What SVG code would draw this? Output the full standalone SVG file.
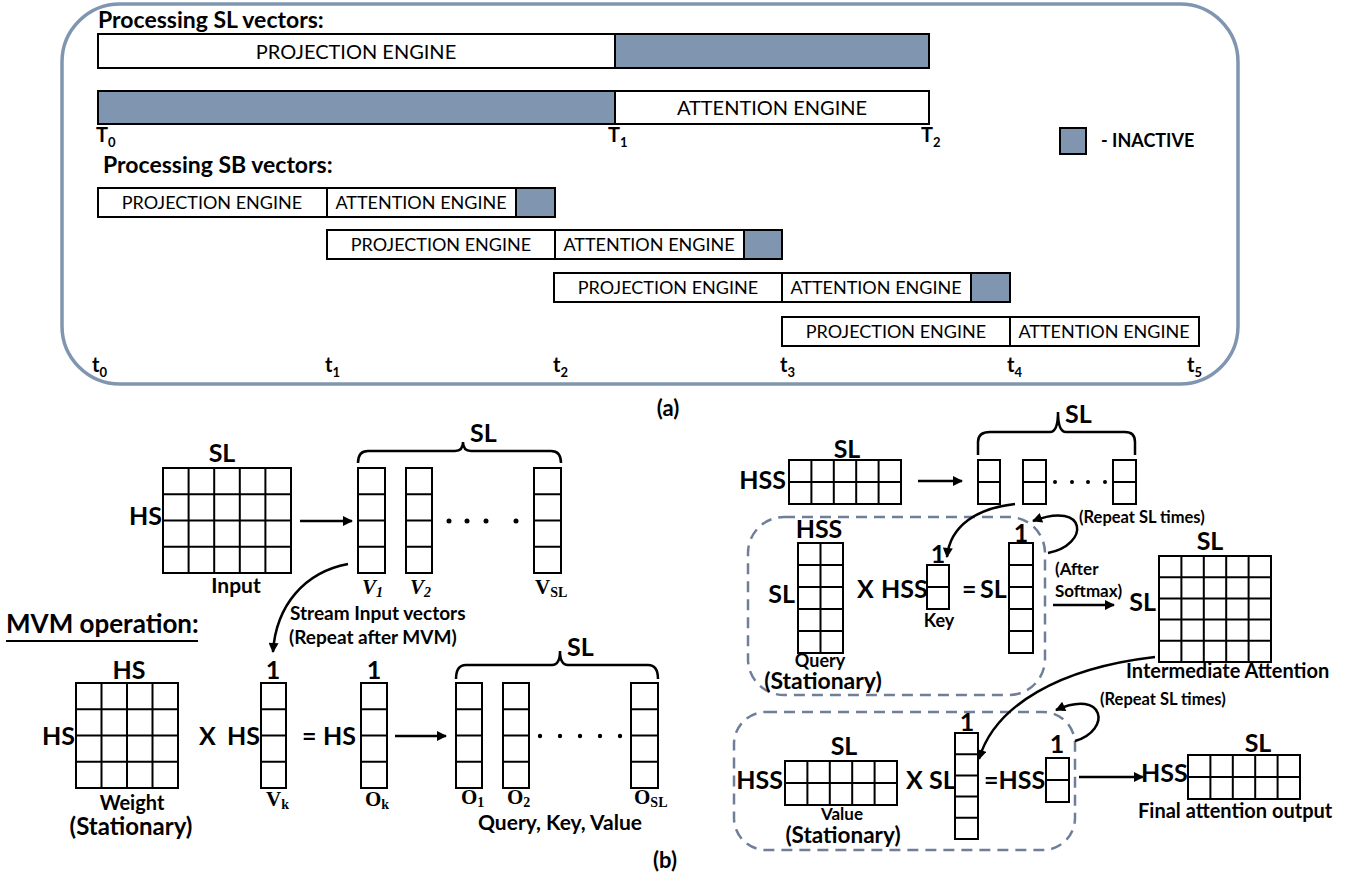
<svg xmlns="http://www.w3.org/2000/svg" width="1349" height="886" viewBox="0 0 1349 886">
<style>
text{font-family:Lato,"Liberation Sans",sans-serif;fill:#000}
.b{font-weight:bold}
.eng{font-size:20px}
.sb{font-size:18px}
.big{font-size:25px;font-weight:bold}
.lbl{font-size:20px;font-weight:bold}
.rep{font-size:16.5px;font-weight:bold}
.m{font-family:"Liberation Serif","DejaVu Serif",serif;font-weight:bold;font-size:21px}
.ms{font-size:14px}
.bx{fill:#fff;stroke:#000;stroke-width:2}
.in{fill:#8096b0;stroke:#000;stroke-width:2}
.g{fill:#fff;stroke:#000;stroke-width:2}
.gl{fill:none;stroke:#000;stroke-width:2}
.ar{fill:none;stroke:#000;stroke-width:2.5}
.dash{fill:none;stroke:#6f7f99;stroke-width:2.5;stroke-dasharray:11 7}
.br{fill:none;stroke:#000;stroke-width:2.5}
</style>
<defs>
<marker id="ah" viewBox="0 0 10 10" refX="9" refY="5" markerWidth="11" markerHeight="10" markerUnits="userSpaceOnUse" orient="auto"><path d="M0,0 L10,5 L0,10 z" fill="#000"/></marker>
</defs>

<!-- Part (a) -->
<g id="frame-a">
<rect x="62" y="4" width="1176" height="380" rx="58" ry="58" fill="none" stroke="#8096b0" stroke-width="3.5"/>
</g>
<g id="sl-title"><text x="98" y="28" class="b" font-size="23">Processing SL vectors:</text></g>
<g id="sl-row1">
<rect x="98" y="34" width="517" height="34" class="bx"/>
<rect x="615" y="34" width="314" height="34" class="in"/>
<text x="356" y="59" class="eng" text-anchor="middle">PROJECTION ENGINE</text>
</g>
<g id="sl-row2">
<rect x="98" y="91" width="517" height="33" class="in"/>
<rect x="615" y="91" width="314" height="33" class="bx"/>
<text x="772" y="115" class="eng" text-anchor="middle">ATTENTION ENGINE</text>
</g>
<g id="T-labels" class="b" font-size="20">
<text x="96" y="142">T<tspan font-size="13" dy="5">0</tspan></text>
<text x="608" y="142">T<tspan font-size="13" dy="5">1</tspan></text>
<text x="921" y="142">T<tspan font-size="13" dy="5">2</tspan></text>
</g>
<g id="legend">
<rect x="1060" y="128" width="26" height="26" class="in"/>
<text x="1101" y="147" class="b" font-size="18">- INACTIVE</text>
</g>
<g id="sb-title"><text x="103" y="173" class="b" font-size="23">Processing SB vectors:</text></g>
<g id="sb-row1">
<rect x="98" y="188" width="229" height="29" class="bx"/>
<rect x="327" y="188" width="189" height="29" class="bx"/>
<rect x="516" y="188" width="39" height="29" class="in"/>
<text x="212" y="209" class="sb" text-anchor="middle">PROJECTION ENGINE</text>
<text x="421" y="209" class="sb" text-anchor="middle">ATTENTION ENGINE</text>
</g>
<g id="sb-row2">
<rect x="327" y="230" width="228" height="29" class="bx"/>
<rect x="555" y="230" width="189" height="29" class="bx"/>
<rect x="744" y="230" width="38" height="29" class="in"/>
<text x="441" y="251" class="sb" text-anchor="middle">PROJECTION ENGINE</text>
<text x="649" y="251" class="sb" text-anchor="middle">ATTENTION ENGINE</text>
</g>
<g id="sb-row3">
<rect x="554" y="273" width="228" height="29" class="bx"/>
<rect x="782" y="273" width="189" height="29" class="bx"/>
<rect x="971" y="273" width="39" height="29" class="in"/>
<text x="668" y="294" class="sb" text-anchor="middle">PROJECTION ENGINE</text>
<text x="876" y="294" class="sb" text-anchor="middle">ATTENTION ENGINE</text>
</g>
<g id="sb-row4">
<rect x="782" y="317" width="228" height="29" class="bx"/>
<rect x="1010" y="317" width="189" height="29" class="bx"/>
<text x="896" y="338" class="sb" text-anchor="middle">PROJECTION ENGINE</text>
<text x="1104" y="338" class="sb" text-anchor="middle">ATTENTION ENGINE</text>
</g>
<g id="t-labels" class="b" font-size="20">
<text x="92" y="372">t<tspan font-size="13" dy="5">0</tspan></text>
<text x="325" y="372">t<tspan font-size="13" dy="5">1</tspan></text>
<text x="553" y="372">t<tspan font-size="13" dy="5">2</tspan></text>
<text x="780" y="372">t<tspan font-size="13" dy="5">3</tspan></text>
<text x="1007" y="372">t<tspan font-size="13" dy="5">4</tspan></text>
<text x="1187" y="372">t<tspan font-size="13" dy="5">5</tspan></text>
</g>
<g id="cap-a"><text x="668" y="416" class="b" font-size="22" text-anchor="middle">(a)</text></g>

<!-- Part (b) left -->
<g id="input-matrix">
<rect x="163" y="468" width="128" height="105" class="g"/>
<path class="gl" d="M188.6 468V573M214.2 468V573M239.8 468V573M265.4 468V573M163 494.25H291M163 520.5H291M163 546.75H291"/>
<text x="222" y="462" class="big" text-anchor="middle">SL</text>
<text x="162" y="525" class="big" text-anchor="end">HS</text>
<text x="236" y="593" class="b" font-size="21" text-anchor="middle">Input</text>
</g>
<g id="input-vectors">
<rect x="358" y="468" width="27" height="105" class="g"/>
<path class="gl" d="M358 494.25H385M358 520.5H385M358 546.75H385"/>
<rect x="406" y="468" width="26" height="105" class="g"/>
<path class="gl" d="M406 494.25H432M406 520.5H432M406 546.75H432"/>
<rect x="534" y="468" width="27" height="105" class="g"/>
<path class="gl" d="M534 494.25H561M534 520.5H561M534 546.75H561"/>
<circle cx="449" cy="521" r="2.5"/><circle cx="467" cy="521" r="2.5"/><circle cx="486" cy="521" r="2.5"/><circle cx="516" cy="521" r="2.5"/>
<path class="br" d="M358 463Q358 451 368 451L455 451Q463 451 463 442Q463 451 471 451L551 451Q561 451 561 463"/>
<text x="470" y="442" class="big">SL</text>
<text x="362" y="594" class="m" font-style="italic">V<tspan class="ms" dy="3">1</tspan></text>
<text x="410" y="594" class="m" font-style="italic">V<tspan class="ms" dy="3">2</tspan></text>
<text x="535" y="594" class="m">V<tspan class="ms" dy="3">SL</tspan></text>
</g>
<g id="stream-label">
<text x="290" y="620" class="b" font-size="19">Stream Input vectors</text>
<text x="289" y="644" class="b" font-size="19">(Repeat after MVM)</text>
</g>
<g id="mvm-title">
<text x="6" y="633" class="b" font-size="26">MVM operation:</text>
<line x1="6" y1="641" x2="198" y2="641" stroke="#000" stroke-width="2"/>
</g>
<g id="weight-matrix">
<rect x="76" y="683" width="102" height="105" class="g"/>
<path class="gl" d="M101.5 683V788M127 683V788M152.5 683V788M76 709.25H178M76 735.5H178M76 761.75H178"/>
<text x="129" y="679" class="big" text-anchor="middle">HS</text>
<text x="75" y="745" class="big" text-anchor="end">HS</text>
<text x="132" y="810" class="b" font-size="20" text-anchor="middle">Weight</text>
<text x="131" y="835" class="b" font-size="24" text-anchor="middle">(Stationary)</text>
</g>
<g id="vk-vector">
<text x="199" y="745" class="big">X</text>
<text x="227" y="745" class="big">HS</text>
<rect x="261" y="683" width="25" height="105" class="g"/>
<path class="gl" d="M261 709.25H286M261 735.5H286M261 761.75H286"/>
<text x="273" y="679" class="big" text-anchor="middle">1</text>
<text x="266" y="806" class="m">V<tspan class="ms" dy="3">k</tspan></text>
</g>
<g id="ok-vector">
<text x="302" y="745" class="big">=</text>
<text x="323" y="745" class="big">HS</text>
<rect x="361" y="683" width="26" height="105" class="g"/>
<path class="gl" d="M361 709.25H387M361 735.5H387M361 761.75H387"/>
<text x="374" y="679" class="big" text-anchor="middle">1</text>
<text x="365" y="806" class="m">O<tspan class="ms" dy="3">k</tspan></text>
</g>
<g id="output-vectors">
<rect x="456" y="683" width="26" height="105" class="g"/>
<path class="gl" d="M456 709.25H482M456 735.5H482M456 761.75H482"/>
<rect x="503" y="683" width="26" height="105" class="g"/>
<path class="gl" d="M503 709.25H529M503 735.5H529M503 761.75H529"/>
<rect x="631" y="683" width="27" height="105" class="g"/>
<path class="gl" d="M631 709.25H658M631 735.5H658M631 761.75H658"/>
<circle cx="540" cy="736" r="2.2"/><circle cx="560" cy="736" r="2.2"/><circle cx="580" cy="736" r="2.2"/><circle cx="600" cy="736" r="2.2"/><circle cx="620" cy="736" r="2.2"/>
<path class="br" d="M456 679Q456 665 466 665L552 665Q560 665 560 651Q560 665 568 665L648 665Q658 665 658 679"/>
<text x="567" y="656" class="big">SL</text>
<text x="461" y="804" class="m">O<tspan class="ms" dy="3">1</tspan></text>
<text x="507" y="804" class="m">O<tspan class="ms" dy="3">2</tspan></text>
<text x="634" y="804" class="m">O<tspan class="ms" dy="3">SL</tspan></text>
<text x="478" y="830" class="b" font-size="21">Query, Key, Value</text>
</g>
<g id="cap-b"><text x="653" y="868" class="b" font-size="22">(b)</text></g>

<!-- Part (b) right -->
<g id="hss-matrix">
<rect x="789" y="460" width="112" height="44" class="g"/>
<path class="gl" d="M811.4 460V504M833.8 460V504M856.2 460V504M878.6 460V504M789 482H901"/>
<text x="847" y="458" class="big" text-anchor="middle">SL</text>
<text x="786" y="489" class="big" text-anchor="end">HSS</text>
</g>
<g id="key-vectors">
<rect x="978" y="460" width="22" height="44" class="g"/>
<path class="gl" d="M978 482H1000"/>
<rect x="1023" y="460" width="23" height="44" class="g"/>
<path class="gl" d="M1023 482H1046"/>
<rect x="1113" y="460" width="23" height="44" class="g"/>
<path class="gl" d="M1113 482H1136"/>
<circle cx="1055" cy="482" r="2"/><circle cx="1072" cy="482" r="2"/><circle cx="1088" cy="482" r="2"/><circle cx="1105" cy="482" r="2"/>
<path class="br" d="M978 455L978 442Q978 432 990 432L1050 432Q1058 432 1058 412Q1058 432 1066 432L1125 432Q1135 432 1135 442L1135 455"/>
<text x="1065" y="423" class="big">SL</text>
</g>
<g id="qk-box">
<rect x="748" y="517" width="297" height="178" rx="36" ry="36" class="dash"/>
<rect x="798" y="543" width="45" height="110" class="g"/>
<path class="gl" d="M820.5 543V653M798 565H843M798 587H843M798 609H843M798 631H843"/>
<text x="819" y="538" class="big" text-anchor="middle">HSS</text>
<text x="795" y="603" class="big" text-anchor="end">SL</text>
<text x="820" y="667" class="b" font-size="18" text-anchor="middle">Query</text>
<text x="823" y="689" class="b" font-size="23" text-anchor="middle">(Stationary)</text>
<text x="857" y="598" class="big">X</text>
<text x="881" y="598" class="big">HSS</text>
<rect x="927" y="565" width="22" height="44" class="g"/>
<path class="gl" d="M927 587H949"/>
<text x="938" y="563" class="big" text-anchor="middle">1</text>
<text x="939" y="627" class="b" font-size="18" text-anchor="middle">Key</text>
<text x="962" y="598" class="big">=</text>
<text x="980" y="598" class="big">SL</text>
<rect x="1009" y="543" width="24" height="110" class="g"/>
<path class="gl" d="M1009 565H1033M1009 587H1033M1009 609H1033M1009 631H1033"/>
<text x="1021" y="542" class="big" text-anchor="middle">1</text>
</g>
<g id="softmax-label">
<text x="1055" y="575" class="b" font-size="17">(After</text>
<text x="1055" y="597" class="b" font-size="17">Softmax)</text>
<text x="1079" y="523" class="rep">(Repeat SL times)</text>
</g>
<g id="intermediate-matrix">
<rect x="1159" y="556" width="112" height="106" class="g"/>
<path class="gl" d="M1181.4 556V662M1203.8 556V662M1226.2 556V662M1248.6 556V662M1159 577.2H1271M1159 598.4H1271M1159 619.6H1271M1159 640.8H1271"/>
<text x="1210" y="550" class="big" text-anchor="middle">SL</text>
<text x="1156" y="611" class="big" text-anchor="end">SL</text>
<text x="1126" y="678" class="lbl">Intermediate Attention</text>
</g>
<g id="av-box">
<rect x="734" y="712" width="341" height="138" rx="32" ry="32" class="dash"/>
<rect x="785" y="761" width="112" height="44" class="g"/>
<path class="gl" d="M807.4 761V805M829.8 761V805M852.2 761V805M874.6 761V805M785 783H897"/>
<text x="844" y="755" class="big" text-anchor="middle">SL</text>
<text x="783" y="789" class="big" text-anchor="end">HSS</text>
<text x="842" y="820" class="b" font-size="17" text-anchor="middle">Value</text>
<text x="843" y="843" class="b" font-size="22.5" text-anchor="middle">(Stationary)</text>
<text x="906" y="789" class="big">X</text>
<text x="929" y="789" class="big">SL</text>
<rect x="955" y="733" width="23" height="106" class="g"/>
<path class="gl" d="M955 754.2H978M955 775.4H978M955 796.6H978M955 817.8H978"/>
<text x="967" y="731" class="big" text-anchor="middle">1</text>
<text x="984" y="789" class="big">=HSS</text>
<rect x="1046" y="758" width="23" height="44" class="g"/>
<path class="gl" d="M1046 780H1069"/>
<text x="1057" y="753" class="big" text-anchor="middle">1</text>
<text x="1100" y="705" class="rep">(Repeat SL times)</text>
</g>
<g id="final-output">
<rect x="1188" y="755" width="112" height="44" class="g"/>
<path class="gl" d="M1210.4 755V799M1232.8 755V799M1255.2 755V799M1277.6 755V799M1188 777H1300"/>
<text x="1258" y="752" class="big" text-anchor="middle">SL</text>
<text x="1141" y="782" class="big">HSS</text>
<text x="1138" y="818" class="lbl">Final attention output</text>
</g>

<g id="connectors">
<line x1="300" y1="521" x2="352" y2="521" class="ar" marker-end="url(#ah)"/>
<line x1="395" y1="736" x2="446" y2="736" class="ar" marker-end="url(#ah)"/>
<path d="M348 564C305 572 276 605 273 652" class="ar" stroke-width="2" marker-end="url(#ah)"/>
<line x1="918" y1="481" x2="962" y2="481" class="ar" marker-end="url(#ah)"/>
<path d="M1015 504C978 508 950 525 947 557" class="ar" stroke-width="2" marker-end="url(#ah)"/>
<path d="M1048 553C1090 545 1088 500 1033 521" class="ar" stroke-width="3" marker-end="url(#ah)"/>
<line x1="1053" y1="605" x2="1114" y2="605" class="ar" marker-end="url(#ah)"/>
<path d="M1155 657C1060 668 995 705 979 759" class="ar" stroke-width="2" marker-end="url(#ah)"/>
<path d="M1075 741C1112 730 1105 688 1056 710" class="ar" stroke-width="3" marker-end="url(#ah)"/>
<line x1="1079" y1="777" x2="1143" y2="777" class="ar" marker-end="url(#ah)"/>
</g>
</svg>
